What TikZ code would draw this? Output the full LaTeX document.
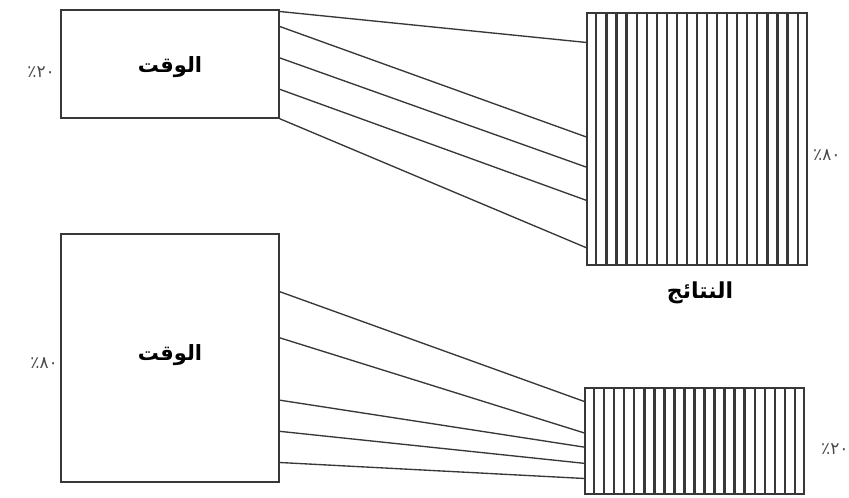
\documentclass[tikz,border=0pt]{standalone}
\usepackage{fontspec}
\newfontfamily\arabicfont[Script=Arabic]{DejaVu Sans}
\TeXXeTstate=1
\usetikzlibrary{calc}
\definecolor{ink}{HTML}{383838}
\definecolor{labelgrey}{HTML}{4A4A4A}
\tikzset{
  box/.style={draw=ink, line width=1.4pt, inner sep=0pt, fill=white},
  link/.style={draw=ink, line width=1.35pt},
  stripe/.style={draw=ink, line width=2.2pt},
  boxtext/.style={font=\arabicfont\bfseries\fontsize{21}{24}\selectfont, text=black},
  pct/.style={font=\arabicfont\fontsize{17}{20}\selectfont, text=labelgrey, inner sep=0pt},
  caption/.style={font=\arabicfont\bfseries\fontsize{22}{26}\selectfont, text=black}
}
\begin{document}
\begin{tikzpicture}[x=1pt, y=-1pt]
\useasboundingbox (0,0) rectangle (849,498);

% time boxes (left) and result boxes (right)
\node[box, minimum width=218pt, minimum height=108pt] (A) at (170,64) {};
\node[box, minimum width=220pt, minimum height=252pt] (B) at (697,139) {};
\node[box, minimum width=218pt, minimum height=248pt] (C) at (170,358) {};
\node[box, minimum width=219pt, minimum height=106pt] (D) at (694.5,441) {};

% vertical hatching of the result boxes
\foreach \i in {1,...,21} {
  \draw[stripe] ($(B.north west)!\i/22!(B.north east)$) -- ($(B.south west)!\i/22!(B.south east)$);
  \draw[stripe] ($(D.north west)!\i/22!(D.north east)$) -- ($(D.south west)!\i/22!(D.south east)$);
}

% links: 20% of time -> 80% of results
\foreach \a/\b in {0.02/0.119, 0.157/0.492, 0.444/0.611, 0.731/0.742, 1.0/0.929} {
  \draw[link] ($(A.north east)!\a!(A.south east)$) -- ($(B.north west)!\b!(B.south west)$);
}
% links: 80% of time -> 20% of results
\foreach \a/\b in {0.234/0.132, 0.419/0.425, 0.669/0.557, 0.794/0.708, 0.919/0.849} {
  \draw[link] ($(C.north east)!\a!(C.south east)$) -- ($(D.north west)!\b!(D.south west)$);
}

% box texts
\node[boxtext] (tA) at (170,67) {\beginR الوقت\endR};
\node[boxtext] (tC) at (170,355) {\beginR الوقت\endR};
\node[caption] (res) at (700,293) {\beginR النتائج\endR};

% percentages
\node[pct, anchor=east] (pA) at (55,72) {٢٠٪};
\node[pct, anchor=east] (pC) at (58,363) {٨٠٪};
\node[pct, anchor=west] (pB) at (813,155) {٨٠٪};
\node[pct, anchor=west] (pD) at (821,449) {٢٠٪};
\end{tikzpicture}
\end{document}
